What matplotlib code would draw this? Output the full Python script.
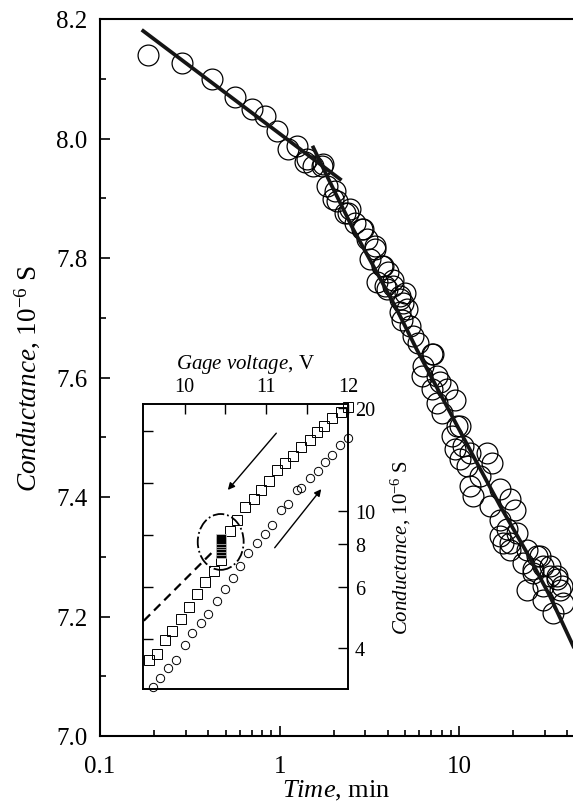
import matplotlib
matplotlib.use("Agg")
import matplotlib.pyplot as plt
from matplotlib.patches import Ellipse
from matplotlib.ticker import FuncFormatter, MultipleLocator, NullLocator, NullFormatter, FormatStrFormatter

# main panel: conductance relaxation vs time
time_min = [
    0.186, 0.285, 0.419, 0.565, 0.700, 0.830, 0.964, 1.117, 1.245, 1.416,
    1.384, 1.542, 1.714, 1.754, 1.828, 2.032, 2.080, 1.991, 2.312, 2.415,
    2.466, 2.630, 2.864, 2.924, 3.055, 3.396, 3.396, 3.184, 3.698, 3.776,
    4.027, 4.295, 3.864, 4.295, 4.989, 4.677, 4.887, 4.680,
    3.475, 3.945, 4.677, 5.105, 4.786, 5.321, 5.546, 5.916, 7.178, 7.031,
    6.180, 6.310, 7.499, 7.031, 8.511, 9.484, 7.499, 7.980, 10.09, 9.078,
    10.54, 11.48, 7.820,
    9.683, 9.484, 10.09, 11.02, 14.22, 15.17, 13.06, 11.48, 11.99, 16.87,
    19.19, 20.46, 14.86, 16.87, 18.37, 20.89, 17.58, 19.19, 23.77, 26.98,
    22.75, 29.38, 25.82, 32.06, 34.91, 37.24, 29.38,
    16.87, 19.19, 28.18, 32.06, 25.82, 34.91, 36.39, 38.02, 33.42, 29.38,
    23.77,
]
conductance = [
    8.140, 8.126, 8.100, 8.069, 8.049, 8.038, 8.013, 7.982, 7.988, 7.965,
    7.960, 7.954, 7.954, 7.957, 7.921, 7.912, 7.896, 7.898, 7.876, 7.876,
    7.882, 7.859, 7.848, 7.848, 7.831, 7.820, 7.815, 7.798, 7.787, 7.787,
    7.776, 7.764, 7.753, 7.753, 7.742, 7.736, 7.725, 7.709,
    7.759, 7.748, 7.731, 7.714, 7.697, 7.686, 7.670, 7.658, 7.639, 7.639,
    7.603, 7.619, 7.603, 7.580, 7.580, 7.563, 7.558, 7.541, 7.519, 7.502,
    7.485, 7.474, 7.592,
    7.519, 7.480, 7.463, 7.452, 7.474, 7.457, 7.435, 7.418, 7.402, 7.413,
    7.396, 7.379, 7.385, 7.362, 7.346, 7.340, 7.323, 7.312, 7.312, 7.301,
    7.290, 7.284, 7.273, 7.268, 7.262, 7.251, 7.251,
    7.335, 7.323, 7.301, 7.284, 7.279, 7.268, 7.245, 7.223, 7.206, 7.228,
    7.245,
]

# fitted lines (early and late regimes)
fit1_t = [0.174, 2.17]
fit1_g = [8.180, 7.932]
fit2_t = [1.54, 1.83, 2.57, 3.32, 4.49, 5.80, 8.15, 12.0, 16.9, 23.8, 32.0, 43.2]
fit2_g = [7.985, 7.938, 7.848, 7.787, 7.714, 7.647, 7.563, 7.468, 7.385, 7.307, 7.234, 7.150]

# inset: conductance vs gage voltage
volt_up = [9.61, 9.70, 9.80, 9.90, 10.00, 10.09, 10.20, 10.29, 10.40, 10.50,
           10.59, 10.68, 10.78, 10.88, 10.98, 11.07, 11.18, 11.27, 11.37, 11.43,
           11.53, 11.63, 11.72, 11.81, 11.90, 12.00]
g_up = [3.08, 3.26, 3.48, 3.69, 4.06, 4.41, 4.72, 5.01, 5.47, 5.91,
        6.38, 6.90, 7.53, 8.05, 8.56, 9.09, 10.08, 10.5, 11.5, 11.7,
        12.5, 13.1, 13.9, 14.6, 15.6, 16.3]

volt_down = [9.565, 9.66, 9.76, 9.85, 9.95, 10.05, 10.15, 10.25, 10.36, 10.44,
             10.55, 10.64, 10.74, 10.85, 10.94, 11.03, 11.13, 11.23, 11.33, 11.43,
             11.53, 11.62, 11.71, 11.81, 11.91, 12.00]
g_down = [3.68, 3.84, 4.20, 4.47, 4.85, 5.24, 5.74, 6.22, 6.70, 7.20,
          8.73, 9.43, 10.3, 10.84, 11.5, 12.2, 13.2, 13.8, 14.5, 15.4,
          16.1, 17.0, 17.7, 18.6, 19.4, 20.1]

volt_hold = [10.44, 10.44, 10.44, 10.44, 10.44, 10.44]
g_hold = [7.55, 7.70, 7.85, 8.00, 8.15, 8.28]

dashed_v = [9.50, 10.33]
dashed_g = [4.79, 7.55]

plt.rcParams["font.family"] = ["Liberation Serif", "DejaVu Serif"]
plt.rcParams["mathtext.fontset"] = "custom"
plt.rcParams["mathtext.rm"] = "Liberation Serif"
plt.rcParams["mathtext.it"] = "Liberation Serif:italic"

fig = plt.figure(figsize=(5.73, 8.04), dpi=100)
ax = fig.add_axes([100 / 573, 67 / 804, 473 / 573, 717 / 804])

ax.plot(time_min, conductance, "o", ms=15, mfc="none", mec="black", mew=0.9)
ax.plot(fit1_t, fit1_g, "-", color="#151515", lw=2.7)
ax.plot(fit2_t, fit2_g, "-", color="#151515", lw=2.7)

ax.set_xscale("log")
ax.set_xlim(0.1, 43)
ax.set_ylim(7.0, 8.2)
ax.yaxis.set_major_locator(MultipleLocator(0.2))
ax.yaxis.set_minor_locator(MultipleLocator(0.1))
ax.yaxis.set_major_formatter(FormatStrFormatter("%.1f"))
ax.xaxis.set_major_formatter(FuncFormatter(lambda v, p: f"{v:g}"))
ax.xaxis.set_minor_formatter(NullFormatter())
ax.tick_params(which="both", direction="in", width=1.2, top=False, right=False, labelsize=18)
ax.tick_params(which="major", length=7)
ax.tick_params(which="minor", length=4.5)
ax.tick_params(axis="x", pad=14)
ax.tick_params(axis="y", pad=9)
for s in ax.spines.values():
    s.set_linewidth(1.5)
ax.spines["right"].set_visible(False)
ax.set_xlabel(r"$\mathit{Time}$, min", fontsize=19, labelpad=0)
ax.set_ylabel(r"$\mathit{Conductance}$, 10$^{-6}$ S", fontsize=19.5, labelpad=10)

# inset
axin = fig.add_axes([143 / 573, 114 / 804, 205 / 573, 285 / 804])
axl = axin.twinx()
axl.set_ylim(0.033, 5.52)
axl.set_yticks([1, 2, 3, 4, 5])
axl.yaxis.tick_left()
axl.tick_params(axis="y", direction="in", length=7, width=1.0, labelleft=False, labelright=False)

axin.plot(volt_up, g_up, "o", ms=6, mfc="none", mec="black", mew=0.7, clip_on=False)
axin.plot(volt_down, g_down, "s", ms=6.5, mfc="none", mec="black", mew=0.7, clip_on=False)
axin.plot(volt_hold, g_hold, "s", ms=6.5, mfc="black", mec="0.8", mew=0.5, clip_on=False)
axin.plot(dashed_v, dashed_g, "--", color="black", lw=1.6, dashes=(4, 2.5))

axin.set_yscale("log")
axin.set_xlim(9.49, 12.0)
axin.set_ylim(3.03, 20.5)
axin.yaxis.tick_right()
axin.yaxis.set_label_position("right")
axin.set_yticks([4, 6, 8, 10, 20])
axin.set_yticklabels(["4", "6", "8", "10", "20"])
axin.yaxis.set_minor_locator(NullLocator())
axin.xaxis.tick_top()
axin.xaxis.set_label_position("top")
axin.set_xticks([10, 11, 12])
axin.set_xticks([10.5, 11.5], minor=True)
axin.tick_params(which="both", direction="in", length=7, width=1.0, labelsize=14.5)
axin.tick_params(axis="y", pad=5)
axin.tick_params(axis="x", pad=6)
for s in axin.spines.values():
    s.set_linewidth(1.2)
for s in axl.spines.values():
    s.set_linewidth(1.2)
axin.set_xlabel(r"$\mathit{Gage\ voltage}$, V", fontsize=15, labelpad=6)
axin.set_ylabel(r"$\mathit{Conductance}$, 10$^{-6}$ S", fontsize=15, rotation=90, labelpad=10)

axin.add_patch(Ellipse((0.379, 0.516), 0.224, 0.196, transform=axin.transAxes,
                       fill=False, ls="-.", lw=1.3, color="black"))
arrow = dict(arrowstyle="-|>", lw=1.0, color="black", mutation_scale=10)
axin.annotate("", xy=(0.405, 0.691), xytext=(0.659, 0.905), xycoords="axes fraction", arrowprops=arrow)
axin.annotate("", xy=(0.878, 0.709), xytext=(0.634, 0.488), xycoords="axes fraction", arrowprops=arrow)

fig.savefig("out.png", dpi=100)
